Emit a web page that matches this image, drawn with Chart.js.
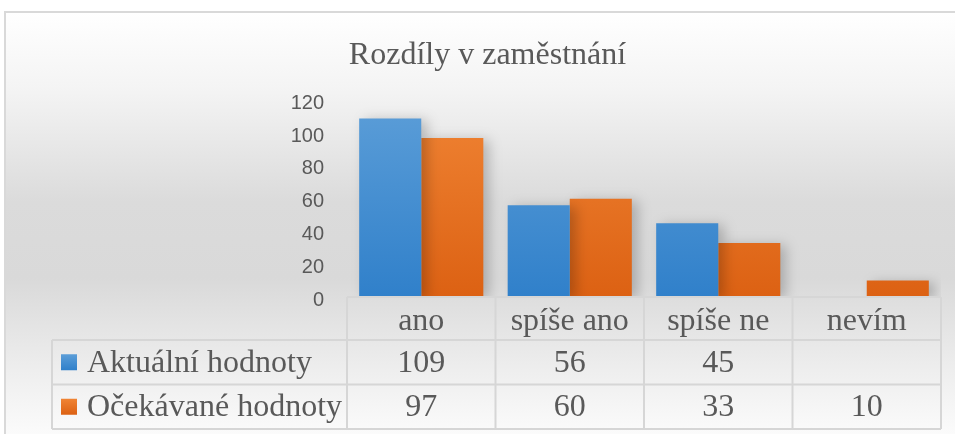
<!DOCTYPE html>
<html>
<head>
<meta charset="utf-8">
<script src="https://cdn.jsdelivr.net/npm/chart.js@4"></script>
<style>
  html, body { margin: 0; padding: 0; background: #fff; }
  #wrap { width: 955px; height: 434px; }
</style>
</head>
<body>
<div id="wrap"><canvas id="myChart" width="955" height="434"></canvas></div>
<script>
// data
const categories = ['ano', 'spíše ano', 'spíše ne', 'nevím'];
const aktualni = [109, 56, 45, null];
const ocekavane = [97, 60, 33, 10];
const seriesNames = ['Aktuální hodnoty', 'Očekávané hodnoty'];
const yTicks = [0, 20, 40, 60, 80, 100, 120];

const textColor = '#595959';
const lineColor = '#d6d6d6';

// vertical gradient for bars (lighter top, darker bottom)
function barGradient(ctx, area, top, bottom) {
    const g = ctx.createLinearGradient(0, area.top, 0, area.bottom);
    g.addColorStop(0, top);
    g.addColorStop(1, bottom);
    return g;
}

const blueFill = (c) => {
    const area = c.chart.chartArea;
    if (!area) return '#4a8fd2';
    return barGradient(c.chart.ctx, area, '#5c9ed8', '#3080ca');
};
const orangeFill = (c) => {
    const area = c.chart.chartArea;
    if (!area) return '#e87025';
    return barGradient(c.chart.ctx, area, '#f08434', '#dc6113');
};

// background with the Excel style gradient and frame
const backgroundPlugin = {
    id: 'bg',
    beforeDraw(chart) {
        const ctx = chart.ctx;
        const w = chart.width, h = chart.height;
        ctx.save();
        ctx.fillStyle = '#ffffff';
        ctx.fillRect(0, 0, w, h);
        const g = ctx.createLinearGradient(0, 12, 0, h);
        g.addColorStop(0, '#ffffff');
        g.addColorStop(0.18, '#f4f4f4');
        g.addColorStop(0.45, '#dbdbdb');
        g.addColorStop(0.63, '#d9d9d9');
        g.addColorStop(0.85, '#eeeeee');
        g.addColorStop(1, '#fbfbfb');
        ctx.fillStyle = g;
        ctx.fillRect(5, 12, w - 5, h - 12);
        ctx.strokeStyle = '#d9d9d9';
        ctx.lineWidth = 2;
        ctx.beginPath();
        ctx.moveTo(5, h);
        ctx.lineTo(5, 12);
        ctx.lineTo(w, 12);
        ctx.stroke();
        ctx.restore();
    }
};

// soft shadow behind the bars
const shadowPlugin = {
    id: 'barShadow',
    beforeDatasetsDraw(chart) {
        const ctx = chart.ctx;
        ctx.save();
        ctx.shadowColor = 'rgba(0,0,0,0.22)';
        ctx.shadowBlur = 12;
        ctx.shadowOffsetX = 6;
        ctx.shadowOffsetY = 2;
    },
    afterDatasetsDraw(chart) {
        chart.ctx.restore();
    }
};

// data table under the plot, built from the same arrays
const tablePlugin = {
    id: 'dataTable',
    afterDraw(chart) {
        const ctx = chart.ctx;
        const area = chart.chartArea;
        const x = chart.scales.x;
        const n = categories.length;
        const cw = (area.right - area.left) / n;
        const headTop = area.bottom;
        const headBottom = headTop + 43;
        const rowH = 44.5;
        const legendLeft = 52;
        const rowsBottom = headBottom + rowH * 2;

        ctx.save();
        ctx.strokeStyle = lineColor;
        ctx.lineWidth = 2;
        ctx.beginPath();
        // header row
        ctx.moveTo(area.left, headTop);
        ctx.lineTo(area.right, headTop);
        for (let i = 0; i <= n; i++) {
            const xx = area.left + i * cw;
            ctx.moveTo(xx, headTop);
            ctx.lineTo(xx, rowsBottom);
        }
        // series rows
        for (let r = 0; r <= 2; r++) {
            const yy = headBottom + r * rowH;
            ctx.moveTo(legendLeft, yy);
            ctx.lineTo(area.right, yy);
        }
        ctx.moveTo(legendLeft, headBottom);
        ctx.lineTo(legendLeft, rowsBottom);
        ctx.stroke();

        ctx.fillStyle = textColor;
        ctx.font = '32px "Liberation Serif", "Times New Roman", serif';
        ctx.textBaseline = 'middle';
        ctx.textAlign = 'center';
        categories.forEach((c, i) => {
            ctx.fillText(c, x.getPixelForValue(i), (headTop + headBottom) / 2 + 3);
        });

        chart.data.datasets.forEach((ds, r) => {
            const cy = headBottom + r * rowH + rowH / 2;
            // legend key
            const g = ctx.createLinearGradient(0, cy - 8, 0, cy + 8);
            g.addColorStop(0, r === 0 ? '#5c9ed8' : '#f08434');
            g.addColorStop(1, r === 0 ? '#3080ca' : '#dc6113');
            ctx.fillStyle = g;
            ctx.fillRect(61, cy - 8, 16, 16);
            ctx.fillStyle = textColor;
            ctx.textAlign = 'left';
            ctx.fillText(ds.label, 87, cy + 1);
            ctx.textAlign = 'center';
            ds.data.forEach((v, i) => {
                if (v === null || v === undefined) return;
                ctx.fillText(String(v), x.getPixelForValue(i), cy + 1);
            });
        });
        ctx.restore();
    }
};

const ctx = document.getElementById('myChart').getContext('2d');
const myChart = new Chart(ctx, {
    type: 'bar',
    data: {
        labels: categories,
        datasets: [{
            label: seriesNames[0],
            data: aktualni,
            backgroundColor: blueFill,
            borderWidth: 0
        }, {
            label: seriesNames[1],
            data: ocekavane,
            backgroundColor: orangeFill,
            borderWidth: 0
        }]
    },
    options: {
        responsive: false,
        animation: false,
        datasets: {
            bar: {
                categoryPercentage: 0.836,
                barPercentage: 1
            }
        },
        layout: {
            // left padding shifts the title centre to match the frame
            padding: { left: 34, right: 14, top: 0, bottom: 137 }
        },
        scales: {
            x: {
                display: false
            },
            y: {
                min: 0,
                max: 120,
                afterBuildTicks(scale) {
                    scale.ticks = yTicks.map(v => ({ value: v }));
                },
                afterFit(scale) {
                    scale.width = 313;
                },
                grid: { display: false, drawTicks: false },
                border: { display: false },
                ticks: {
                    padding: 23,
                    labelOffset: 3,
                    color: textColor,
                    font: { family: '"Liberation Sans", Arial, sans-serif', size: 20 }
                }
            }
        },
        plugins: {
            legend: { display: false },
            tooltip: { enabled: false },
            title: {
                display: true,
                text: 'Rozdíly v zaměstnání',
                color: textColor,
                font: { family: '"Liberation Serif", "Times New Roman", serif', size: 32, weight: 'normal' },
                padding: { top: 36, bottom: 26 }
            }
        }
    },
    plugins: [backgroundPlugin, shadowPlugin, tablePlugin]
});
</script>
</body>
</html>
